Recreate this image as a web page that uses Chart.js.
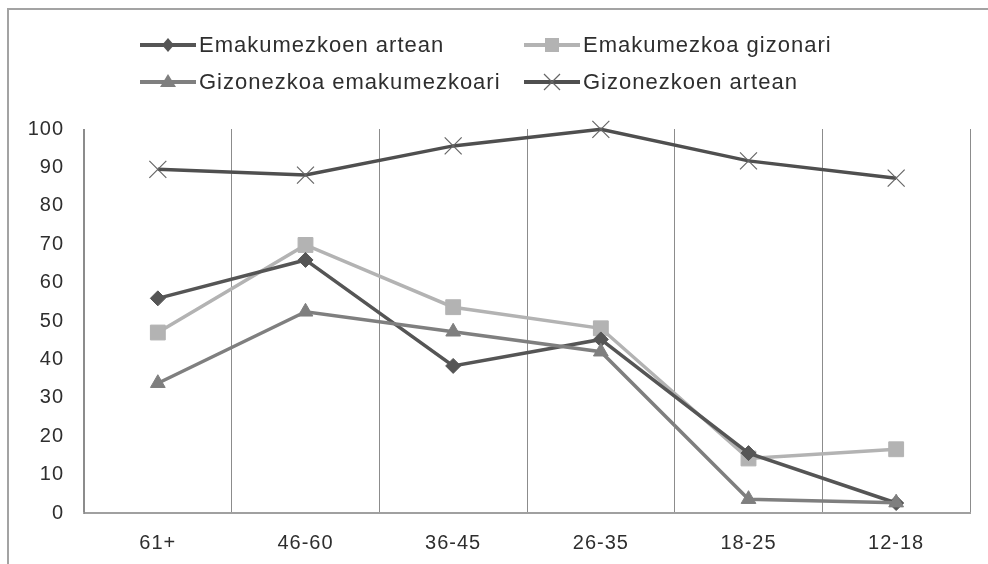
<!DOCTYPE html>
<html>
<head>
<meta charset="utf-8">
<script src="https://cdn.jsdelivr.net/npm/chart.js@4/dist/chart.umd.min.js"></script>
<style>
  html, body { margin: 0; padding: 0; background: #fff; }
  #wrap { position: relative; width: 988px; height: 564px; overflow: hidden; background: #fff; }
  #frame { position: absolute; left: 7px; top: 8px; width: 1000px; height: 600px;
           border-left: 2px solid #a3a3a3; border-top: 2px solid #a3a3a3; pointer-events: none; }
  canvas { position: absolute; left: 0; top: 0; }
  .leg { position: absolute; height: 30px; display: flex; align-items: center;
         font-family: "Liberation Sans", Arial, sans-serif; font-size: 22px; letter-spacing: 1px;
         color: #2e2e2e; white-space: nowrap; }
  .leg svg { margin-right: 3px; }
</style>
</head>
<body>
<div id="wrap">
  <canvas id="c" width="988" height="564"></canvas>
  <div id="frame"></div>
  <div id="legend"></div>
</div>
<script>
const categories = ['61+', '46-60', '36-45', '26-35', '18-25', '12-18'];
const seriesNames = ['Emakumezkoen artean', 'Emakumezkoa gizonari', 'Gizonezkoa emakumezkoari', 'Gizonezkoen artean'];
const emakumezkoenArtean = [55.9, 65.9, 38.3, 45.2, 15.6, 2.6];
const emakumezkoaGizonari = [47.0, 69.8, 53.6, 48.1, 14.2, 16.6];
const gizonezkoaEmakumezkoari = [33.8, 52.4, 47.2, 42.0, 3.6, 2.7];
const gizonezkoenArtean = [89.5, 88.0, 95.6, 99.9, 91.7, 87.2];
const yTicks = [0, 10, 20, 30, 40, 50, 60, 70, 80, 90, 100];

const colors = ['#555555', '#b3b3b3', '#7f7f7f', '#4f4f4f'];
const markers = ['rectRot', 'rect', 'triangle', 'crossRot'];

const spacingPlugin = {
  id: 'spacing',
  beforeUpdate(chart) { chart.ctx.letterSpacing = '1px'; },
  beforeLayout(chart) { chart.ctx.letterSpacing = '1px'; },
  beforeDraw(chart) { chart.ctx.letterSpacing = '1px'; }
};

const ds = (label, data, i, extra) => Object.assign({
  label, data,
  borderColor: colors[i], backgroundColor: colors[i],
  pointBackgroundColor: colors[i], pointBorderColor: colors[i],
  borderWidth: 3.5, pointStyle: markers[i], pointRadius: 7, pointBorderWidth: 1,
  tension: 0, clip: false
}, extra || {});

new Chart(document.getElementById('c'), {
  type: 'line',
  data: {
    labels: categories,
    datasets: [
      ds(seriesNames[3], gizonezkoenArtean, 3, { pointRadius: 12, pointBorderWidth: 1.2, pointBorderColor: '#666666' }),
      ds(seriesNames[2], gizonezkoaEmakumezkoari, 2, { pointRadius: 8.5 }),
      ds(seriesNames[0], emakumezkoenArtean, 0, { pointRadius: 7.5 }),
      ds(seriesNames[1], emakumezkoaGizonari, 1, { pointRadius: 10.5 })
    ]
  },
  options: {
    responsive: false,
    devicePixelRatio: 1,
    animation: false,
    layout: { padding: { top: 129, right: 18, bottom: 0, left: 0 } },
    plugins: { legend: { display: false }, tooltip: { enabled: false } },
    scales: {
      x: {
        offset: true,
        grid: { offset: true, color: '#8c8c8c', lineWidth: 1, drawTicks: false },
        border: { color: '#a0a0a0', width: 2 },
        ticks: { color: '#2e2e2e', padding: 18, font: { family: 'Liberation Sans', size: 20 } },
        afterFit(scale) { scale.height = 51; }
      },
      y: {
        min: 0, max: 100,
        afterBuildTicks(scale) { scale.ticks = yTicks.map(v => ({ value: v })); },
        grid: { display: false, drawTicks: false },
        border: { color: '#8c8c8c', width: 1 },
        ticks: { color: '#2e2e2e', padding: 20, font: { family: 'Liberation Sans', size: 20 } },
        afterFit(scale) { scale.width = 84; }
      }
    }
  },
  plugins: [spacingPlugin]
});

// HTML legend (column-aligned like the original)
function markerSvg(i) {
  const c = colors[i];
  let m = '';
  if (i === 0) m = `<polygon points="28,3 34,10 28,17 22,10" fill="${c}"/>`;
  if (i === 1) m = `<rect x="21" y="3" width="14" height="14" fill="${c}"/>`;
  if (i === 2) m = `<polygon points="28,2 36,15 20,15" fill="${c}"/>`;
  if (i === 3) m = `<path d="M20,2 L36,18 M36,2 L20,18" stroke="#666" stroke-width="1.2"/>`;
  return `<svg width="56" height="20" viewBox="0 0 56 20"><line x1="0" y1="10" x2="56" y2="10" stroke="${c}" stroke-width="4"/>${m}</svg>`;
}
const legendPos = [[140, 30], [524, 30], [140, 67], [524, 67]];
const legendOrder = [0, 1, 2, 3];
const legendEl = document.getElementById('legend');
legendOrder.forEach((si, k) => {
  const d = document.createElement('div');
  d.className = 'leg';
  d.style.left = legendPos[k][0] + 'px';
  d.style.top = legendPos[k][1] + 'px';
  d.innerHTML = markerSvg(si) + '<span>' + seriesNames[si] + '</span>';
  legendEl.appendChild(d);
});
</script>
</body>
</html>
